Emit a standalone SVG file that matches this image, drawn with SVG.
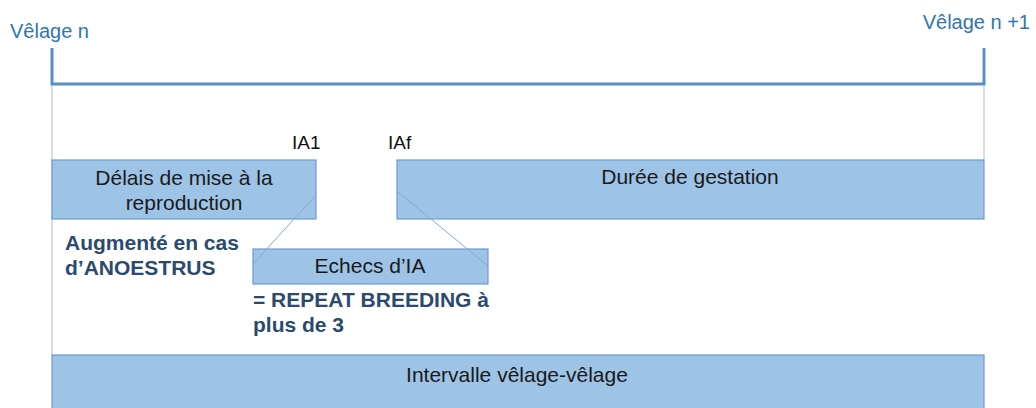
<svg xmlns="http://www.w3.org/2000/svg" width="1036" height="408" viewBox="0 0 1036 408">
<style>
.box{fill:#9dc3e6;stroke:#6d9bcc;stroke-width:1.2}
.t{font-family:"Liberation Sans",Arial,sans-serif;font-size:21px;fill:#1a1a1a;text-anchor:middle}
.lbl{font-family:"Liberation Sans",Arial,sans-serif;font-size:19px;fill:#111}
.vel{font-family:"Liberation Sans",Arial,sans-serif;font-size:20px;fill:#2e75b6}
.note{font-family:"Liberation Sans",Arial,sans-serif;font-size:21px;font-weight:bold;fill:#2b4a6f}
.bracket{fill:none;stroke:#5b8fc7;stroke-width:3}
.guide{fill:none;stroke:#b8cce4;stroke-width:1.2}
.diag{fill:none;stroke:#85a9d2;stroke-width:1}
</style>
<rect width="1036" height="408" fill="#ffffff"/>
<g id="timeline">
<text class="vel" x="10" y="38">Vêlage n</text>
<text class="vel" x="1030" y="29" text-anchor="end">Vêlage n +1</text>
<line class="guide" x1="52" y1="84" x2="52" y2="355"/>
<line class="guide" x1="984" y1="84" x2="984" y2="160"/>
<path class="bracket" d="M52,48 V84 H984 V48"/>
</g>
<g id="delais">
<rect class="box" x="52" y="160" width="264" height="59"/>
<text class="t" x="184" y="185">Délais de mise à la</text>
<text class="t" x="184" y="210">reproduction</text>
</g>
<g id="gestation">
<rect class="box" x="397" y="160" width="587" height="59"/>
<text class="t" x="690" y="184">Durée de gestation</text>
</g>
<g id="echecs">
<rect class="box" x="253" y="249" width="235" height="35"/>
<text class="t" x="370" y="273">Echecs d’IA</text>
</g>
<g id="intervalle">
<rect class="box" x="52" y="355" width="932" height="60"/>
<text class="t" x="517" y="382">Intervalle vêlage-vêlage</text>
</g>
<g id="markers">
<text class="lbl" x="292" y="149">IA1</text>
<text class="lbl" x="388" y="149">IAf</text>
</g>
<g id="notes">
<text class="note" x="65" y="250">Augmenté en cas</text>
<text class="note" x="65" y="275">d’ANOESTRUS</text>
<text class="note" x="253" y="307">= REPEAT BREEDING à</text>
<text class="note" x="253" y="332">plus de 3</text>
</g>
<g id="connectors">
<line class="diag" x1="316" y1="195" x2="253" y2="264"/>
<line class="diag" x1="397" y1="191" x2="488" y2="266"/>
</g>
</svg>
